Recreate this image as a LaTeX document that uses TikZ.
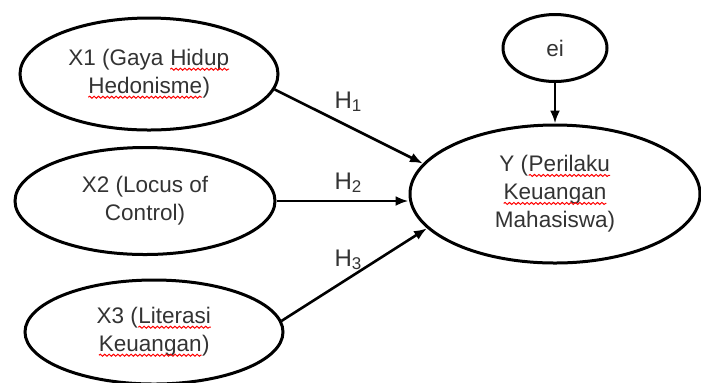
\documentclass[tikz,border=0pt]{standalone}
\usepackage{fontspec}
\setmainfont{Liberation Sans}
\usetikzlibrary{shapes.geometric,arrows.meta,decorations.pathmorphing}
\newcommand{\hsub}[1]{\raisebox{-1.5pt}{\fontsize{8.5}{9}\selectfont #1}}
\newcommand{\spell}[1]{\tikz[baseline=(w.base)]{\node[draw=none, rectangle, inner sep=0pt, outer sep=0pt,
    minimum width=0pt, minimum height=0pt, text=black!80] (w) {#1};
  \draw[red, line width=0.5pt, decorate, decoration={snake, amplitude=0.5pt, segment length=2.2pt}]
    ([yshift=-1.8pt]w.base west) -- ([yshift=-1.8pt]w.base east);}}

\begin{document}
\begin{tikzpicture}[x=0.5pt,y=-0.5pt,
    var/.style={ellipse, draw, line width=1.5pt, inner sep=1pt, align=center,
    font=\fontsize{11.25}{14}\selectfont, text=black!80},
    hyp/.style={font=\fontsize{12}{14}\selectfont, text=black!80},
    >={Latex[length=6.5pt,width=5pt]}, line width=1.3pt]
  \useasboundingbox (0,0) rectangle (701,382);
  \node[var,minimum width=129pt,minimum height=56pt] (x1) at (149,74) {X1 (Gaya \spell{Hidup}\\\spell{Hedonisme})};
  \node[var,minimum width=130pt,minimum height=53.5pt] (x2) at (145,201) {X2 (Locus of\\Control)};
  \node[var,minimum width=129pt,minimum height=52pt] (x3) at (154,332) {X3 (\spell{Literasi}\\\spell{Keuangan})};
  \node[var,minimum width=145pt,minimum height=69pt] (y) at (555,194) {Y (\spell{Perilaku}\\\spell{Keuangan}\\Mahasiswa)};
  \node[var,minimum width=52pt,minimum height=33.5pt] (ei) at (555,48) {ei};
  \draw[->] (x1.-7) -- (y.167);
  \draw[->] (x2.east) -- (y.west |- x2.east);
  \draw[->] (x3.5) -- (y.195);
  \draw[->] (ei) -- (y);
  \node[hyp] (h1) at (348,102) {H\hsub{1}};
  \node[hyp] (h2) at (348,183) {H\hsub{2}};
  \node[hyp] (h3) at (348,260) {H\hsub{3}};
\end{tikzpicture}
\end{document}
